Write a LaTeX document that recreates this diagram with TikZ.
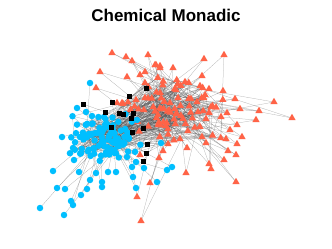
\documentclass[tikz,border=0pt]{standalone}
\usepackage{fontspec}
\setmainfont{Liberation Sans}
\usetikzlibrary{shapes.geometric}

\definecolor{tomato}{RGB}{255,99,71}
\definecolor{skyblue}{RGB}{0,191,255}

\tikzset{
  link/.style={draw=black!70, line width=0.25pt, opacity=0.45},
  bluedot/.style={circle, fill=skyblue, inner sep=0pt, minimum size=6.5pt},
  redtri/.style={regular polygon, regular polygon sides=3, fill=tomato, inner sep=0pt, minimum size=8.5pt},
  blacksq/.style={rectangle, fill=black, inner sep=0pt, minimum size=5pt}
}

% outer nodes
\def\trilist{112/53,126/57,132/61,148/55,100/72,96/88,156/65,160/68,145/72,140/75,127/77,117/103,122/103,136/100,145/98,
224/55,204/59,173/68,160/66,155/65,202/76,185/82,200/86,209/89,223/91,235/99,274/102,211/107,240/109,259/111,227/113,256/120,292/118,221/117,206/119,198/112,191/99,197/102,178/98,170/103,
237/125,230/130,242/137,226/139,237/144,228/151,236/155,224/160,209/164,211/169,186/173,236/182,159/158,202/137,206/143,187/148,150/183,137/197,141/221,163/151,140/155}
\def\dotlist{90/83,77/108,86/112,92/116,104/117,62/137,80/137,137/120,73/148,74/160,53/171,79/172,57/188,65/189,87/189,90/180,102/182,102/187,81/195,71/201,73/205,40/208,64/215,
133/177,136/188,144/168,157/182,132/167,108/172,116/172,96/173,127/157,136/162,161/143,167/170,172/167}
\def\sqlist{83/104,112/102,129/96,146/88,105/112,119/113,123/114,133/113,131/118,111/127,143/128,132/132,143/161,146/153,147/144}

\begin{document}
\begin{tikzpicture}[x=1pt,y=-1pt]
\useasboundingbox (0,0) rectangle (332,249);
\pgfmathsetseed{11}

% title
\node (title) at (166,15) {\fontsize{17}{20}\selectfont\bfseries Chemical Monadic};

% core positions
\foreach \i in {1,...,95}{
  \pgfmathsetmacro\px{104+40*(rand+rand)/2}
  \pgfmathsetmacro\py{137+28*(rand+rand)/2}
  \coordinate (bc\i) at (\px,\py);
}
\foreach \i in {1,...,75}{
  \pgfmathsetmacro\px{170+58*(rand+rand)/2}
  \pgfmathsetmacro\py{112+40*(rand+rand)/2}
  \coordinate (tc\i) at (\px,\py);
}
\foreach \x/\y [count=\i] in \trilist \coordinate (tp\i) at (\x,\y);
\foreach \x/\y [count=\i] in \dotlist \coordinate (bp\i) at (\x,\y);
\foreach \x/\y [count=\i] in \sqlist \coordinate (sq\i) at (\x,\y);

% links
\foreach \i in {1,...,95}{
  \pgfmathtruncatemacro\j{random(1,95)}
  \pgfmathtruncatemacro\k{random(1,75)}
  \draw[link] (bc\i) -- (bc\j);
  \draw[link] (bc\i) -- (tc\k);
}
\foreach \i in {1,...,75}{
  \pgfmathtruncatemacro\j{random(1,75)}
  \pgfmathtruncatemacro\k{random(1,75)}
  \pgfmathtruncatemacro\m{random(1,95)}
  \draw[link] (tc\i) -- (tc\j);
  \draw[link] (tc\i) -- (tc\k);
  \draw[link] (tc\i) -- (bc\m);
}
\foreach \x/\y [count=\i] in \trilist {
  \pgfmathtruncatemacro\j{random(1,75)}
  \pgfmathtruncatemacro\k{random(1,75)}
  \draw[link] (tp\i) -- (tc\j);
  \draw[link] (tp\i) -- (tc\k);
}
\foreach \x/\y [count=\i] in \dotlist {
  \pgfmathtruncatemacro\j{random(1,95)}
  \draw[link] (bp\i) -- (bc\j);
}
\foreach \x/\y [count=\i] in \sqlist {
  \pgfmathtruncatemacro\j{random(1,95)}
  \pgfmathtruncatemacro\k{random(1,75)}
  \draw[link] (sq\i) -- (bc\j);
  \draw[link] (sq\i) -- (tc\k);
}

% markers
\foreach \i in {1,...,75} \node[redtri] (T\i) at (tc\i) {};
\foreach \x/\y [count=\i] in \trilist \node[redtri] (TP\i) at (tp\i) {};
\foreach \i in {1,...,95} \node[bluedot] (B\i) at (bc\i) {};
\foreach \x/\y [count=\i] in \dotlist \node[bluedot] (BP\i) at (bp\i) {};
\foreach \x/\y [count=\i] in \sqlist \node[blacksq] (S\i) at (sq\i) {};
\end{tikzpicture}
\end{document}
